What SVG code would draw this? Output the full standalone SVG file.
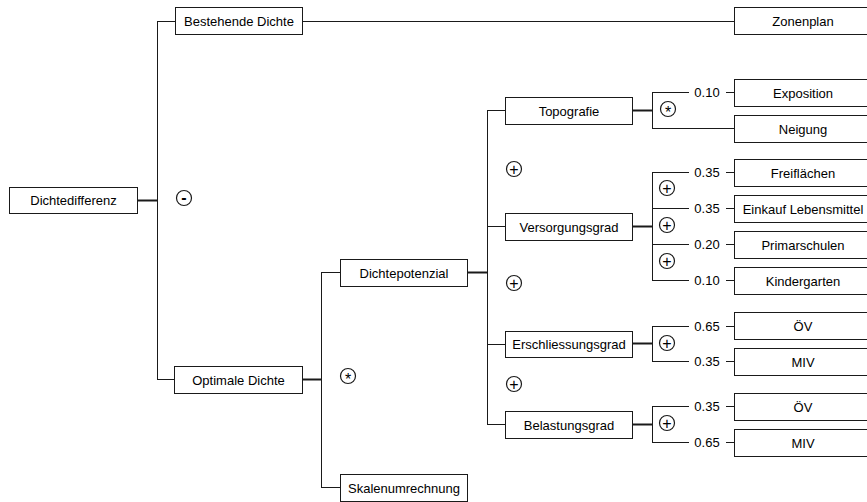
<svg xmlns="http://www.w3.org/2000/svg" width="867" height="502" viewBox="0 0 867 502">
<style>
  .box { fill: #fff; stroke: #1a1a1a; stroke-width: 1; }
  .lbl { font-family: "Liberation Sans", Arial, sans-serif; font-size: 13px; fill: #000; text-anchor: middle; }
  .w { font-family: "Liberation Sans", Arial, sans-serif; font-size: 13px; fill: #000; text-anchor: middle; }
  .ln { fill: none; stroke: #1a1a1a; stroke-width: 1; }
  .thk { fill: none; stroke: #1a1a1a; stroke-width: 2; }
  .op { fill: #fff; stroke: #1a1a1a; stroke-width: 1.2; }
  .sym { font-family: "Liberation Sans", Arial, sans-serif; font-size: 16px; fill: #000; text-anchor: middle; }
  .dash { font-family: "Liberation Sans", Arial, sans-serif; font-size: 16px; font-weight: bold; fill: #000; text-anchor: middle; }
</style>
<rect width="867" height="502" fill="#fff"/>
<g id="connectors">
  <path class="thk" d="M138 200.5 H157"/>
  <path class="ln" d="M157.5 21.5 V379.5 M157 21.5 H175 M157 379.5 H174"/>
  <path class="ln" d="M303 21.5 H734"/>
  <path class="thk" d="M303 379.5 H321"/>
  <path class="ln" d="M321.5 272.5 V487.5 M321 272.5 H340 M321 487.5 H340"/>
  <path class="thk" d="M468 272.5 H487"/>
  <path class="ln" d="M487.5 110.5 V424.5 M487 110.5 H505 M487 226.5 H505 M487 344.5 H505 M487 424.5 H505"/>
  <path class="thk" d="M633 110.5 H652"/>
  <path class="ln" d="M652.5 92.5 V128.5 M652 92.5 H689 M726 92.5 H734 M652 128.5 H734"/>
  <path class="thk" d="M633 226.5 H652"/>
  <path class="ln" d="M652.5 172.5 V280.5 M652 172.5 H689 M726 172.5 H734 M652 208.5 H689 M726 208.5 H734 M652 244.5 H689 M726 244.5 H734 M652 280.5 H689 M726 280.5 H734"/>
  <path class="thk" d="M633 343.5 H652"/>
  <path class="ln" d="M652.5 326.5 V361.5 M652 326.5 H689 M726 326.5 H734 M652 361.5 H689 M726 361.5 H734"/>
  <path class="thk" d="M633 424.5 H652"/>
  <path class="ln" d="M652.5 406.5 V442.5 M652 406.5 H689 M726 406.5 H734 M652 442.5 H689 M726 442.5 H734"/>
  <text class="w" x="707" y="97">0.10</text>
  <text class="w" x="707" y="177">0.35</text>
  <text class="w" x="707" y="213">0.35</text>
  <text class="w" x="707" y="249">0.20</text>
  <text class="w" x="707" y="285">0.10</text>
  <text class="w" x="707" y="331">0.65</text>
  <text class="w" x="707" y="366">0.35</text>
  <text class="w" x="707" y="411">0.35</text>
  <text class="w" x="707" y="447">0.65</text>
</g>
<g id="operators">
  <circle class="op" cx="184" cy="198" r="7.5"/><text class="dash" x="184" y="203">-</text>
  <circle class="op" cx="348" cy="376" r="7.5"/><text class="sym" x="348" y="385">*</text>
  <circle class="op" cx="514" cy="169" r="7.5"/><text class="sym" x="514" y="174.5">+</text>
  <circle class="op" cx="514" cy="283" r="7.5"/><text class="sym" x="514" y="288.5">+</text>
  <circle class="op" cx="514" cy="384" r="7.5"/><text class="sym" x="514" y="389.5">+</text>
  <circle class="op" cx="668" cy="109" r="7.5"/><text class="sym" x="668" y="118">*</text>
  <circle class="op" cx="667" cy="188" r="7.5"/><text class="sym" x="667" y="193.5">+</text>
  <circle class="op" cx="667" cy="225" r="7.5"/><text class="sym" x="667" y="230.5">+</text>
  <circle class="op" cx="667" cy="261" r="7.5"/><text class="sym" x="667" y="266.5">+</text>
  <circle class="op" cx="667" cy="343" r="7.5"/><text class="sym" x="667" y="348.5">+</text>
  <circle class="op" cx="667" cy="423" r="7.5"/><text class="sym" x="667" y="428.5">+</text>
</g>
<g id="n-dichtedifferenz"><rect class="box" x="9.5" y="187.5" width="128" height="26"/><text class="lbl" x="73.5" y="205">Dichtedifferenz</text></g>
<g id="n-bestehende"><rect class="box" x="175.5" y="7.5" width="127" height="27"/><text class="lbl" x="239" y="25.5">Bestehende Dichte</text></g>
<g id="n-optimale"><rect class="box" x="174.5" y="366.5" width="128" height="27"/><text class="lbl" x="238.5" y="384.5">Optimale Dichte</text></g>
<g id="n-dichtepotenzial"><rect class="box" x="340.5" y="259.5" width="127" height="27"/><text class="lbl" x="404" y="277.5">Dichtepotenzial</text></g>
<g id="n-skalen"><rect class="box" x="340.5" y="474.5" width="127" height="27"/><text class="lbl" x="404" y="492.5">Skalenumrechnung</text></g>
<g id="n-topografie"><rect class="box" x="505.5" y="97.5" width="127" height="27"/><text class="lbl" x="569" y="115.5">Topografie</text></g>
<g id="n-versorgung"><rect class="box" x="505.5" y="213.5" width="127" height="27"/><text class="lbl" x="569" y="231.5">Versorgungsgrad</text></g>
<g id="n-erschliessung"><rect class="box" x="505.5" y="331.5" width="127" height="26"/><text class="lbl" x="569" y="349">Erschliessungsgrad</text></g>
<g id="n-belastung"><rect class="box" x="505.5" y="411.5" width="127" height="27"/><text class="lbl" x="569" y="429.5">Belastungsgrad</text></g>
<g id="n-zonenplan"><rect class="box" x="734.5" y="7.5" width="138" height="27"/><text class="lbl" x="803" y="25.5">Zonenplan</text></g>
<g id="n-exposition"><rect class="box" x="734.5" y="79.5" width="138" height="27"/><text class="lbl" x="803" y="97.5">Exposition</text></g>
<g id="n-neigung"><rect class="box" x="734.5" y="115.5" width="138" height="27"/><text class="lbl" x="803" y="133.5">Neigung</text></g>
<g id="n-freiflaechen"><rect class="box" x="734.5" y="159.5" width="138" height="27"/><text class="lbl" x="803" y="177.5">Freiflächen</text></g>
<g id="n-einkauf"><rect class="box" x="734.5" y="195.5" width="138" height="27"/><text class="lbl" x="803" y="213.5">Einkauf Lebensmittel</text></g>
<g id="n-primarschulen"><rect class="box" x="734.5" y="231.5" width="138" height="27"/><text class="lbl" x="803" y="249.5">Primarschulen</text></g>
<g id="n-kindergarten"><rect class="box" x="734.5" y="267.5" width="138" height="27"/><text class="lbl" x="803" y="285.5">Kindergarten</text></g>
<g id="n-oev1"><rect class="box" x="734.5" y="312.5" width="138" height="27"/><text class="lbl" x="803" y="330.5">ÖV</text></g>
<g id="n-miv1"><rect class="box" x="734.5" y="348.5" width="138" height="27"/><text class="lbl" x="803" y="366.5">MIV</text></g>
<g id="n-oev2"><rect class="box" x="734.5" y="393.5" width="138" height="27"/><text class="lbl" x="803" y="411.5">ÖV</text></g>
<g id="n-miv2"><rect class="box" x="734.5" y="429.5" width="138" height="27"/><text class="lbl" x="803" y="447.5">MIV</text></g>
</svg>
